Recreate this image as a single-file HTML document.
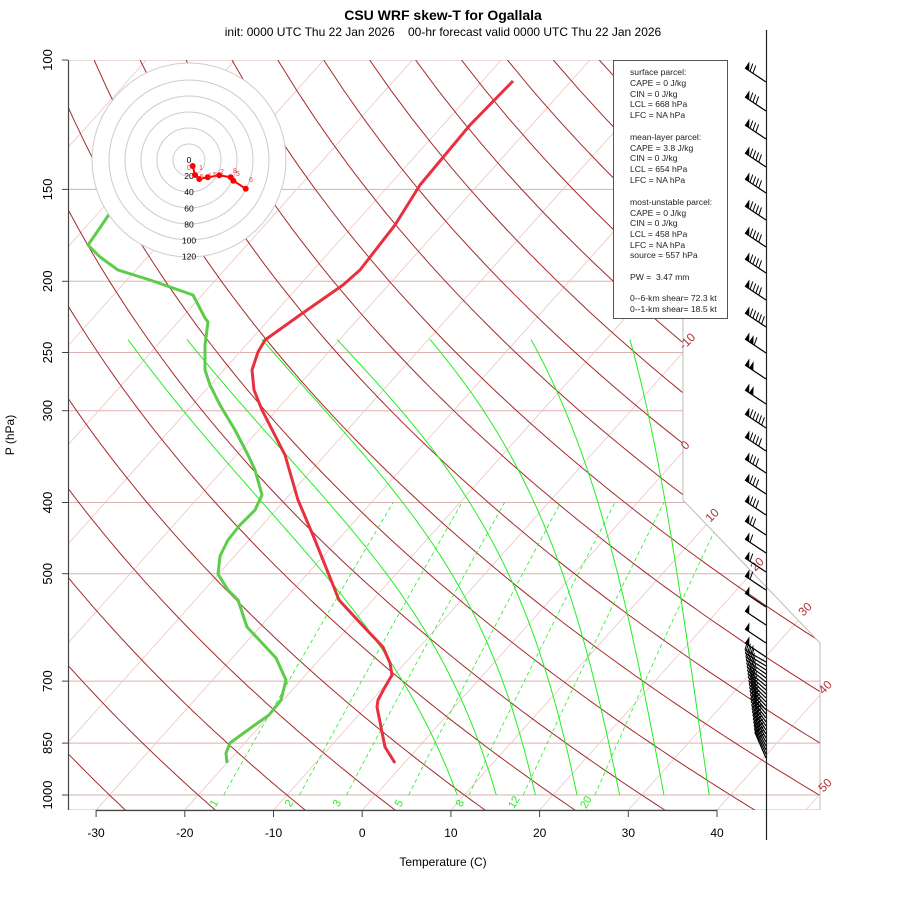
<!DOCTYPE html>
<html><head><meta charset="utf-8"><style>
html,body{margin:0;padding:0;background:#fff;}
svg{display:block;font-family:"Liberation Sans",sans-serif;}
</style></head><body>
<svg id="s" width="900" height="900" viewBox="0 0 900 900" xmlns="http://www.w3.org/2000/svg">
<defs><clipPath id="cp"><polygon points="68,60 683,60 683,500 820,643 820,810 68,810"/></clipPath></defs>
<rect width="900" height="900" fill="#fff"/>
<g id="bg" clip-path="url(#cp)"></g>
<g id="fg"></g>
<text x="443" y="20" font-size="14" font-weight="bold" text-anchor="middle">CSU WRF skew-T for Ogallala</text>
<text x="443" y="36" font-size="12" text-anchor="middle" style="white-space:pre">init: 0000 UTC Thu 22 Jan 2026    00-hr forecast valid 0000 UTC Thu 22 Jan 2026</text>
<text x="443" y="866" font-size="12" text-anchor="middle">Temperature (C)</text>
<text transform="translate(14,435) rotate(-90)" font-size="12" text-anchor="middle">P (hPa)</text>
</svg>
<script>
var NS="http://www.w3.org/2000/svg";
var bg=document.getElementById('bg'),fg=document.getElementById('fg');
function el(p,t,a,txt){var e=document.createElementNS(NS,t);for(var k in a)e.setAttribute(k,a[k]);if(txt!==undefined)e.textContent=txt;p.appendChild(e);return e;}
function Y(p){return 60+735*Math.log10(p/100);}
function X(T,p){return 362.2+8.871*T+0.895*(810-Y(p));}
function pl(g,pts,st){return el(g,'polyline',Object.assign({points:pts.map(function(q){return q[0].toFixed(1)+','+q[1].toFixed(1)}).join(' '),fill:'none'},st));}
[100,150,200,250,300,400,500,700,850,1000].forEach(function(p){pl(bg,[[68,Y(p)],[820,Y(p)]],{stroke:'#dbb0b0','stroke-width':1});});
pl(bg,[[68,810],[820,810]],{stroke:'#dbb0b0','stroke-width':1});
for(var T=-140;T<=60;T+=10){pl(bg,[[X(T,1050),Y(1050)],[X(T,100),Y(100)]],{stroke:'#eec4c4','stroke-width':0.8});}
for(var th=-40;th<=260;th+=10){var pts=[];for(var p=1050;p>=100;p-=10){var t=(th+273.15)*Math.pow(p/1000,0.286)-273.15;pts.push([X(t,p),Y(p)]);}pl(bg,pts,{stroke:'#a52a2a','stroke-width':1});}
function tdFromE(e){var l=Math.log(e/6.112);return 243.5*l/(17.67-l);}
[1,2,3,5,8,12,20].forEach(function(w){var pts=[];for(var p=1000;p>=400;p-=20){var e=w*p/(622+w);var t=tdFromE(e);pts.push([X(t,p),Y(p)]);}pl(bg,pts,{stroke:'#22ee22','stroke-width':0.8,'stroke-dasharray':'4,3'});});
function es(t){return 6.112*Math.exp(17.67*t/(t+243.5));}
var tops=[128,187,262,337,430,531,630];
[9.2,13.6,18,22.7,27.5,32.5,37.6].forEach(function(t0,k){var t=t0,pts=[[X(t,1000),Y(1000)]];for(var p=1000;p>240;p-=2){var TK=t+273.15,e=es(t),rs=0.622*e/(p-e),Lv=2.5e6,Rd=287,cp=1004;var d=(Rd*TK+Lv*rs)/(cp+Lv*Lv*rs*0.622/(Rd*TK*TK))/p;t-=d*2;pts.push([X(t,p-2),Y(p-2)]);}
var last=pts[pts.length-1],delta=tops[k]-last[0],y0=Y(1000),y1=last[1];pts=pts.map(function(q){return [q[0]+delta*(y0-q[1])/(y0-y1),q[1]];});
pl(bg,pts,{stroke:'#22ee22','stroke-width':1});});
pl(fg,[[683,60],[683,500],[820,643],[820,810]],{stroke:'#bbb','stroke-width':1});
pl(fg,[[68.5,60],[68.5,810]],{stroke:'#444','stroke-width':1.2});
[100,150,200,250,300,400,500,700,850,1000].forEach(function(p){var y=Y(p);pl(fg,[[62,y],[68,y]],{stroke:'#444'});el(fg,'text',{transform:'translate(52,'+y+') rotate(-90)','font-size':13,'text-anchor':'middle'},p);});
pl(fg,[[96,810.5],[717,810.5]],{stroke:'#444','stroke-width':1.2});
for(var T=-30;T<=40;T+=10){var x=362.2+8.871*T;pl(fg,[[x,810],[x,817]],{stroke:'#444'});el(fg,'text',{x:x,y:837,'font-size':12,'text-anchor':'middle'},T);}
pl(fg,[[766.5,30],[766.5,840]],{stroke:'#222','stroke-width':1.2});
[['-10',690,344],['0',688,448],['10',715,518],['20',760,567],['30',808,612],['40',828,690],['50',828,788]].forEach(function(a){el(fg,'text',{transform:'translate('+a[1]+','+a[2]+') rotate(-45)','font-size':12,fill:'#b03030','text-anchor':'middle'},a[0]);});
[['1',217,805],['2',292,805],['3',340,805],['5',402,805],['8',463,805],['12',517,804],['20',589,804]].forEach(function(a){el(fg,'text',{transform:'translate('+a[1]+','+a[2]+') rotate(-60)','font-size':11,fill:'#22ee22','text-anchor':'middle'},a[0]);});
var tp=[[513,81],[470,125],[420,185],[395,225],[360,270],[343,285],[300,315],[265,340],[258,352],[252,370],[254,390],[262,410],[285,455],[298,500],[315,540],[335,590],[339,600],[364,627],[383,647],[390,663],[392,675],[385,687],[378,700],[377,707],[381,727],[385,747],[395,763]];
pl(fg,tp,{stroke:'#e8303f','stroke-width':3,'stroke-linejoin':'round'});
var dp=[[110,213],[95,235],[88,245],[100,257],[118,270],[150,280],[193,295],[205,318],[208,322],[205,345],[205,370],[210,385],[220,405],[235,430],[248,455],[255,470],[262,495],[255,510],[240,525],[228,540],[220,556],[218,574],[228,590],[238,600],[247,627],[262,643],[276,658],[286,680],[281,700],[269,715],[252,727],[230,743],[226,753],[227,763]];
pl(fg,dp,{stroke:'#5ccc4a','stroke-width':3,'stroke-linejoin':'round'});
el(fg,'circle',{cx:189,cy:160,r:97,fill:'#fff',stroke:'#ccc'});
for(var r=16;r<=80;r+=16)el(fg,'circle',{cx:189,cy:160,r:r,fill:'none',stroke:'#ccc'});
['0','20','40','60','80','100','120'].forEach(function(s,i){el(fg,'text',{x:189,y:163+i*16.1,'font-size':8.5,'text-anchor':'middle'},s);});
var hp=[[192.7,166],[195,175],[199.3,179],[207.7,177.3],[219.3,175.3],[230.7,177.3],[233.3,180.7],[245.7,188.7]];
pl(fg,hp,{stroke:'#f00','stroke-width':2});
hp.forEach(function(q){el(fg,'circle',{cx:q[0],cy:q[1],r:3,fill:'#f00'});});
[['0',187,170],['1',199,170],['5',200,179],['1',208,178],['5',213,177],['2',220,174],['8',233,173],['5',236,176],['6',249,182]].forEach(function(a){el(fg,'text',{x:a[1],y:a[2],'font-size':7,fill:'#f33'},a[0]);});
el(fg,'rect',{x:613.5,y:60.5,width:114,height:258,fill:'#fff',stroke:'#555'});
var L=[['surface parcel:',72],['CAPE = 0 J/kg',83],['CIN = 0 J/kg',94],['LCL = 668 hPa',104],['LFC = NA hPa',115],['mean-layer parcel:',137],['CAPE = 3.8 J/kg',148],['CIN = 0 J/kg',158],['LCL = 654 hPa',169],['LFC = NA hPa',180],['most-unstable parcel:',202],['CAPE = 0 J/kg',213],['CIN = 0 J/kg',223],['LCL = 458 hPa',234],['LFC = NA hPa',245],['source = 557 hPa',255],['PW =  3.47 mm',277],['0--6-km shear= 72.3 kt',298],['0--1-km shear= 18.5 kt',309]];
L.forEach(function(a){el(fg,'text',{x:630,y:a[1]+3,'font-size':8.6,fill:'#222',style:'white-space:pre'},a[0]);});
var ys=[82,111,139,167,193,220,247,273,300,327,353,379,404,428,451,473,494,515,535,553,572,590,607,625,643,657];
function barb(y,dx,dy,np,nb){var g=fg,bx=766,by=y,tx=bx+dx,ty=by+dy;pl(g,[[bx,by],[tx,ty]],{stroke:'#000','stroke-width':1.2});var L=Math.hypot(dx,dy),ux=dx/L,uy=dy/L,px=-uy,py=ux;if(py>0){px=-px;py=-py;}var s=0;for(var i=0;i<np;i++){var ax=tx-ux*s,ay=ty-uy*s,cx=ax-ux*5,cy=ay-uy*5;el(g,'polygon',{points:ax+','+ay+' '+(ax+px*8)+','+(ay+py*8)+' '+cx+','+cy,fill:'#000'});s+=5;}if(np)s+=1;for(var j=0;j<nb;j++){var ax=tx-ux*s,ay=ty-uy*s;pl(g,[[ax,ay],[ax+px*8+ux*2,ay+py*8+uy*2]],{stroke:'#000','stroke-width':1});s+=3.5;}}
var cfg=[[1,2],[1,3],[1,3],[1,4],[1,4],[1,4],[1,4],[1,4],[1,4],[1,5],[2,1],[2,0],[2,0],[1,5],[1,4],[1,3],[1,3],[1,3],[1,2],[1,1],[1,1],[1,1],[1,0],[1,0],[1,0],[1,0]];
ys.forEach(function(y,i){barb(y,-21,-14,cfg[i][0],cfg[i][1]);});
for(var y=662;y<=760;y+=4){var f=(y-662)/98;barb(y,-21+f*10,-12-f*14,0,3);}
</script>
</body></html>
